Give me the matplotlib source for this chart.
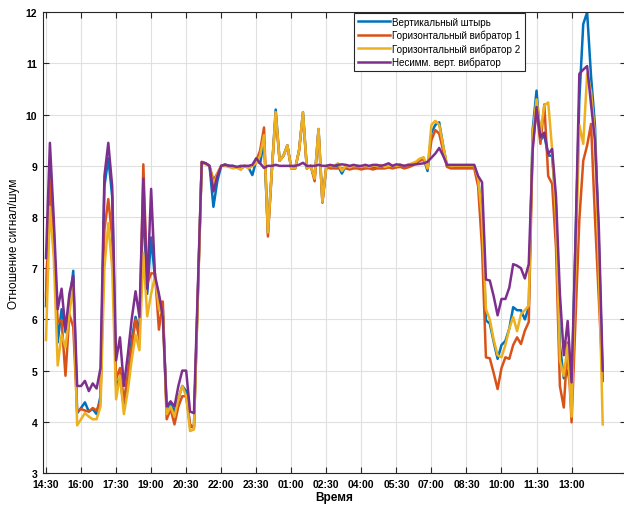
import matplotlib
matplotlib.use('Agg')
import matplotlib.pyplot as plt
import pandas as pd

# отсчёты каждые 10 минут, начиная с 14:30
times = pd.date_range('2021-06-01 14:30', periods=144, freq='10min').to_pydatetime()
tick_times = pd.date_range('2021-06-01 14:30', periods=16, freq='90min').to_pydatetime()
tick_labels = ['14:30', '16:00', '17:30', '19:00', '20:30', '22:00', '23:30', '01:00',
               '02:30', '04:00', '05:30', '07:00', '08:30', '10:00', '11:30', '13:00']

labels = ['Вертикальный штырь', 'Горизонтальный вибратор 1',
          'Горизонтальный вибратор 2', 'Несимм. верт. вибратор']

vert_pin = [6.26, 8.95, 7.7, 5.55, 6.2, 5.75, 6.3, 6.95, 4.17, 4.27,
            4.38, 4.2, 4.25, 4.15, 4.5, 8.6, 9.15, 8.4, 4.7, 4.85,
            4.3, 4.9, 5.6, 6.05, 5.75, 8.3, 6.5, 7.6, 6.8, 6.45,
            6.2, 4.25, 4.35, 4.2, 4.45, 4.7, 4.6, 3.9, 3.9, 6.5,
            9.07, 9.05, 9.0, 8.2, 8.7, 9.0, 9.03, 9.0, 9.0, 8.97,
            8.95, 9.0, 8.97, 8.82, 9.1, 9.05, 9.5, 7.7, 8.9, 10.1,
            9.1, 9.2, 9.4, 8.95, 8.95, 9.3, 10.05, 8.95, 9.0, 8.75,
            9.72, 8.3, 9.0, 9.0, 9.0, 9.0, 8.85, 9.0, 8.95, 9.0,
            9.0, 8.97, 9.0, 8.97, 8.95, 9.0, 9.0, 8.97, 9.0, 9.0,
            9.0, 9.02, 8.98, 9.0, 9.02, 9.05, 9.12, 9.15, 8.9, 9.65,
            9.8, 9.85, 9.4, 9.0, 9.0, 8.98, 8.98, 8.98, 8.98, 8.98,
            8.98, 8.75, 8.0, 5.98, 5.92, 5.56, 5.23, 5.5, 5.58, 5.82,
            6.24, 6.18, 6.18, 6.0, 6.24, 9.7, 10.47, 9.5, 9.6, 9.2,
            9.2, 8.2, 5.5, 4.85, 5.0, 4.55, 7.5, 10.3, 11.77, 12.0,
            10.75, 9.8, 7.5, 4.8]

hor_dip1 = [6.45, 8.75, 7.5, 5.95, 5.98, 4.9, 6.1, 5.85, 4.2, 4.25,
            4.22, 4.2, 4.27, 4.22, 4.4, 7.75, 8.35, 7.6, 4.83, 5.05,
            4.4, 4.9, 5.45, 6.0, 5.6, 9.03, 6.7, 6.9, 6.9, 5.8,
            6.35, 4.05, 4.25, 3.95, 4.3, 4.5, 4.5, 3.95, 3.88, 6.5,
            9.08, 9.05, 9.0, 8.72, 8.85, 9.0, 9.0, 9.0, 8.98, 8.97,
            8.93, 9.0, 8.97, 9.0, 9.1, 9.3, 9.75, 7.62, 8.9, 10.0,
            9.1, 9.2, 9.4, 8.95, 8.95, 9.3, 10.0, 8.95, 9.0, 8.7,
            9.7, 8.28, 8.98, 8.95, 8.95, 8.95, 8.95, 8.95, 8.93, 8.95,
            8.95, 8.93, 8.95, 8.95, 8.93, 8.95, 8.95, 8.95, 8.97, 8.95,
            8.97, 8.98, 8.95, 8.97, 9.0, 9.05, 9.1, 9.12, 8.95, 9.5,
            9.7, 9.63, 9.3, 8.98, 8.95, 8.95, 8.95, 8.95, 8.95, 8.95,
            8.95, 8.6, 7.4, 5.26, 5.24, 4.95, 4.64, 5.05, 5.26, 5.23,
            5.5, 5.65, 5.52, 5.78, 5.95, 9.4, 10.1, 9.43, 10.2, 8.8,
            8.65, 7.4, 4.7, 4.28, 5.55, 3.99, 6.0, 7.96, 9.1, 9.4,
            9.82, 8.0, 6.4, 4.8]

hor_dip2 = [5.6, 8.2, 7.2, 5.1, 5.7, 5.45, 6.1, 6.7, 3.93, 4.05,
            4.17, 4.1, 4.05, 4.05, 4.3, 7.0, 7.88, 7.0, 4.44, 4.9,
            4.15, 4.6, 5.2, 5.7, 5.4, 7.3, 6.06, 6.5, 6.85, 6.2,
            6.1, 4.15, 4.3, 4.1, 4.45, 4.7, 4.5, 3.82, 3.85, 6.4,
            9.05, 9.03, 9.0, 8.62, 8.85, 9.0, 9.0, 8.98, 8.95, 8.97,
            8.93, 9.0, 8.95, 9.0, 9.05, 9.2, 9.6, 7.7, 8.9, 10.05,
            9.1, 9.2, 9.4, 8.95, 8.95, 9.3, 10.05, 8.95, 9.0, 8.75,
            9.72, 8.3, 9.0, 9.0, 9.0, 9.05, 8.9, 9.0, 8.97, 9.0,
            9.0, 8.98, 9.0, 8.98, 9.0, 9.0, 9.02, 8.98, 9.0, 9.0,
            9.0, 9.02, 9.0, 9.02, 9.05, 9.08, 9.14, 9.17, 8.95, 9.8,
            9.88, 9.8, 9.4, 9.02, 9.0, 9.0, 9.0, 9.0, 9.0, 9.0,
            9.0, 8.75, 8.0, 6.2, 6.0, 5.6, 5.3, 5.26, 5.5, 5.82,
            6.05, 5.77, 6.1, 6.18, 6.27, 9.6, 10.3, 9.65, 10.18, 10.24,
            9.33, 8.0, 5.2, 4.9, 5.5, 4.1, 7.0, 9.8, 9.43, 10.8,
            10.45, 9.6, 7.0, 3.95]

asym_dip = [7.2, 9.45, 7.95, 6.2, 6.6, 5.8, 6.5, 6.85, 4.7, 4.7,
            4.8, 4.6, 4.75, 4.65, 5.05, 8.8, 9.45, 8.6, 5.2, 5.65,
            4.7, 5.3, 6.0, 6.55, 6.05, 8.75, 6.6, 8.55, 6.85, 6.5,
            6.05, 4.3, 4.4, 4.3, 4.7, 5.0, 5.0, 4.2, 4.17, 6.6,
            9.07, 9.05, 9.0, 8.5, 8.8, 9.0, 9.02, 9.0, 9.0, 8.98,
            9.0, 9.0, 9.0, 9.02, 9.15, 9.05, 8.96, 9.0, 9.0, 9.02,
            9.0, 9.0, 9.0, 9.0, 9.0, 9.02, 9.06, 9.0, 9.0, 9.0,
            9.02, 9.0, 9.0, 9.02, 9.0, 9.02, 9.03, 9.02, 9.0, 9.02,
            9.0, 9.0, 9.02, 9.0, 9.02, 9.02, 9.0, 9.02, 9.05, 9.0,
            9.03, 9.02, 9.0, 9.02, 9.02, 9.03, 9.04, 9.05, 9.08, 9.16,
            9.24, 9.35, 9.2, 9.02, 9.02, 9.02, 9.02, 9.02, 9.02, 9.02,
            9.02, 8.8, 8.68, 6.78, 6.76, 6.45, 6.08, 6.4, 6.4, 6.62,
            7.08, 7.05, 7.0, 6.8, 7.08, 9.3, 10.15, 9.56, 9.65, 9.23,
            9.33, 8.4, 6.5, 5.3, 5.97, 4.77, 7.5, 10.8, 10.88, 10.95,
            10.2, 9.5, 7.8, 5.0]

colors = ['#0072BD', '#D95319', '#EDB120', '#7E2F8E']
font = 'Liberation Sans'

fig = plt.figure(figsize=(6.24, 5.06), dpi=100)
# правая граница осей чуть за краем картинки, как в исходнике
ax = fig.add_axes([42.7 / 624, 32 / 506, (626 - 42.7) / 624, (474 - 13.3) / 506])

for series, col, lab in zip([vert_pin, hor_dip1, hor_dip2, asym_dip], colors, labels):
    ax.plot(times, series, color=col, lw=1.8, label=lab)

ax.set_xlim(times[0] - pd.Timedelta(minutes=8.5), times[0] + pd.Timedelta(hours=24.83))
ax.set_ylim(3, 12)
ax.set_yticks(range(3, 13))
ax.set_xticks(tick_times)
ax.set_xticklabels(tick_labels)

ax.grid(True, color='#e0e0e0', lw=0.8)
ax.set_axisbelow(True)
ax.tick_params(direction='in', top=True, right=True, length=4, width=0.8,
               colors='#262626', labelsize=7.5, pad=4)
for t in ax.get_xticklabels() + ax.get_yticklabels():
    t.set_fontweight('bold')
    t.set_family(font)
    t.set_color('black')
for s in ax.spines.values():
    s.set_color('#262626')
    s.set_linewidth(0.8)

ax.set_xlabel('Время', fontsize=8.5, fontweight='bold', family=font, labelpad=2)
ax.set_ylabel('Отношение сигнал/шум', fontsize=8.5, family=font, labelpad=4)

leg = ax.legend(loc='upper left', bbox_to_anchor=(354 / 624, 1 - 14 / 506),
                bbox_transform=fig.transFigure, fancybox=False, framealpha=1,
                edgecolor='#262626', borderpad=0.4, handlelength=3.2,
                handletextpad=0.3, labelspacing=0.3, borderaxespad=0,
                prop={'family': font, 'size': 7.1})
leg.get_frame().set_linewidth(0.8)

fig.savefig('out.png', dpi=100)
